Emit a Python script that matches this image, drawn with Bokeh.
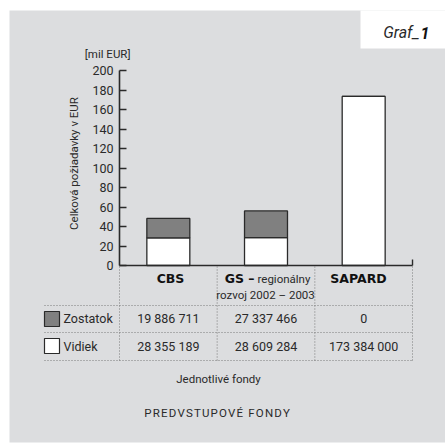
from bokeh.plotting import figure
from bokeh.models import LinearAxis, FixedTicker, Range1d, ColumnDataSource
from bokeh.core.properties import value
from bokeh.embed import file_html
from bokeh.resources import INLINE
import math

# ---- data ----
categories = ["CBS", "GS", "SAPARD"]
zostatok = [19886711, 27337466, 0]
vidiek = [28355189, 28609284, 173384000]
zostatok_labels = ["19 886 711", "27 337 466", "0"]
vidiek_labels = ["28 355 189", "28 609 284", "173 384 000"]
y_ticks = [0, 20, 40, 60, 80, 100, 120, 140, 160, 180, 200]

# ---- layout helpers (page pixel -> data) ----
W, H = 445, 443
FRAME_L, FRAME_T, FRAME_R, FRAME_B = 9, 10, 445, 442
PX_PER_X = 97.67
AX_PX = 119.0
Y0_PX, Y200_PX = 265.0, 70.0
PX_PER_Y = (Y0_PX - Y200_PX) / 200.0


def dx(px):
    return 0.5 + (px - AX_PX) / PX_PER_X


def dy(py):
    return (Y0_PX - py) / PX_PER_Y


FONT = "Roboto"
BG = "#dcdddf"
INK = "#2a2a2a"

p = figure(width=W, height=H, output_backend="svg", toolbar_location=None,
           x_range=Range1d(dx(FRAME_L), dx(FRAME_R)),
           y_range=Range1d(dy(FRAME_B), dy(FRAME_T)),
           x_axis_location=None, y_axis_location=None,
           min_border_left=FRAME_L, min_border_top=FRAME_T,
           min_border_right=W - FRAME_R, min_border_bottom=H - FRAME_B,
           background_fill_color=BG, border_fill_color="white",
           outline_line_color=None)
p.grid.visible = False

# white corner box
p.quad(left=[dx(360)], right=[dx(460)], bottom=[dy(48)], top=[dy(0)],
       fill_color="white", line_color=None)

# y axis inside the frame
yax = LinearAxis(fixed_location=0.5, bounds=(0, 200), ticker=FixedTicker(ticks=y_ticks))
yax.major_tick_in = 7
yax.major_tick_out = 0
yax.minor_tick_line_color = None
yax.axis_line_width = 1.6
yax.axis_line_color = INK
yax.major_tick_line_color = INK
yax.major_tick_line_width = 1.4
yax.major_label_text_font = FONT
yax.major_label_text_font_size = "12.5px"
yax.major_label_text_color = INK
yax.major_label_standoff = 6
p.add_layout(yax, "left")

# bars
xs = [1, 2, 3]
vid_m = [v / 1e6 for v in vidiek]
tot_m = [(v + z) / 1e6 for v, z in zip(vidiek, zostatok)]
src = ColumnDataSource(dict(x=xs, vid=vid_m, tot=tot_m))
p.vbar(x="x", width=0.44, bottom=0, top="vid", source=src,
       fill_color="white", line_color=INK, line_width=1.3)
p.vbar(x="x", width=0.44, bottom="vid", top="tot", source=src,
       fill_color="#808080", line_color=INK, line_width=1.3)

# x baseline
p.segment(x0=[0.5], y0=[0], x1=[3.5], y1=[0], line_color=INK, line_width=1.6)
p.segment(x0=[3.5], y0=[0], x1=[3.5], y1=[dy(259)], line_color=INK, line_width=1.4)

# table grid (dotted)
dot = dict(line_color="#7a7a7a", line_width=1, line_dash="1 2")
for yy in [305, 332, 360]:
    p.segment(x0=[dx(44)], y0=[dy(yy)], x1=[3.5], y1=[dy(yy)], **dot)
for xx in [0.5, 1.5, 2.5, 3.5]:
    p.segment(x0=[xx], y0=[dy(266)], x1=[xx], y1=[dy(360)], **dot)

# category labels
bold = dict(text_font=value("DejaVu Sans"), text_font_style="bold", text_color="#111",
            text_font_size="12.5px", text_baseline="middle")
p.text(x=[dx(170)], y=[dy(278)], text=[categories[0]], text_align="center", **bold)
p.text(x=[dx(358)], y=[dy(278)], text=[categories[2]], text_align="center", **bold)
p.text(x=[dx(254)], y=[dy(278)], text=[categories[1] + " \u2013"], text_align="right", **bold)
reg = dict(text_font=value(FONT), text_color=INK, text_font_size="11.5px", text_baseline="middle")
p.text(x=[dx(257)], y=[dy(278)], text=["regionálny"], text_align="left", **reg)
p.text(x=[dx(265)], y=[dy(294)], text=["rozvoj 2002 \u2013 2003"], text_align="center", **reg)

# table rows
rowfont = dict(text_font=value(FONT), text_color=INK, text_font_size="12.5px", text_baseline="middle")
p.text(x=xs, y=[dy(318)] * 3, text=zostatok_labels, text_align="center", **rowfont)
p.text(x=xs, y=[dy(346)] * 3, text=vidiek_labels, text_align="center", **rowfont)
p.text(x=[dx(63)] * 2, y=[dy(318), dy(346)], text=["Zostatok", "Vidiek"], text_align="left", **rowfont)
p.quad(left=[dx(44)] * 2, right=[dx(59)] * 2, top=[dy(311), dy(338)], bottom=[dy(326), dy(353)],
       fill_color=["#808080", "white"], line_color=INK, line_width=1.2)

# titles
small = dict(text_font=value(FONT), text_color=INK, text_font_size="11.5px", text_baseline="middle")
p.text(x=[dx(130)], y=[dy(53)], text=["[mil EUR]"], text_align="right", **small)
p.text(x=[dx(73)], y=[dy(163)], text=["Celková požiadavky v EUR"], angle=math.pi / 2,
       text_align="center", **small)
p.text(x=[dx(218)], y=[dy(378)], text=["Jednotlivé fondy"], text_align="center", **small)
p.text(x=[dx(216)], y=[dy(412)], text=["\u200aP\u200aR\u200aE\u200aD\u200aV\u200aS\u200aT\u200aU\u200aP\u200aO\u200aV\u200aÉ\u200a \u200aF\u200aO\u200aN\u200aD\u200aY"],
       text_align="center", **small)

# Graf_1
p.text(x=[dx(419)], y=[dy(32)], text=["Graf_"], text_align="right", text_font=value(FONT),
       text_font_style="italic", text_font_size="16px", text_color=INK, text_baseline="middle")
p.text(x=[dx(420)], y=[dy(32)], text=["1"], text_align="left", text_font=value(FONT),
       text_font_style="bold italic", text_font_size="16px", text_color="#111", text_baseline="middle")

open("out.html", "w").write(file_html(p, INLINE))
